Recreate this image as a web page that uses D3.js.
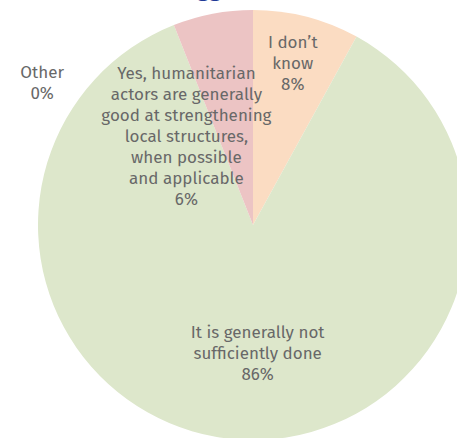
<!DOCTYPE html>
<html><head><meta charset="utf-8">
<script src="https://cdn.jsdelivr.net/npm/d3@7"></script>
<style>html,body{margin:0;padding:0;background:#fff;}svg{display:block;}</style>
</head><body>
<svg id="chart" width="457" height="438"></svg>
<script>
const categories = ["I don\u2019t know", "It is generally not sufficiently done", "Other", "Yes, humanitarian actors are generally good at strengthening local structures, when possible and applicable"];
const values = [8, 86, 0, 6];
const labelLines = [
  ["I don\u2019t", "know"],
  ["It is generally not", "sufficiently done"],
  ["Other"],
  ["Yes, humanitarian", "actors are generally", "good at strengthening", "local structures,", "when possible", "and applicable"]
];
const colors = ["#FBDCC2", "#DDE7CB", "#C9D6E8", "#ECC4C4"];

const svg = d3.select("#chart");
const cx = 253, cy = 225, R = 215;
const font = "'Fira Sans', 'Open Sans', sans-serif";

// partial title (cut off above viewport)
svg.append("text").attr("x", 209).attr("y", -4).attr("text-anchor", "middle")
  .attr("font-family", font).attr("font-weight", "bold").attr("font-size", 22)
  .attr("fill", "#1F3A96").text("gg");

const pie = d3.pie().sort(null).value(d => d)(values);
const arc = d3.arc().innerRadius(0).outerRadius(R);
const g = svg.append("g").attr("transform", `translate(${cx},${cy})`);
g.selectAll("path").data(pie).enter().append("path")
  .attr("d", arc).attr("fill", (d, i) => colors[i]);

// label anchor layout: polar position (deg from 12 o'clock, radius) of the label block's center
const labelLayout = [
  {ang: 14.2, r: 162},
  {ang: 178, r: 133},
  {ang: -56.8, r: 252},
  {ang: -38.5, r: 107}
];
const lh = 21;
pie.forEach((d, i) => {
  const lines = labelLines[i].concat([Math.round(values[i]) + "%"]);
  const a = labelLayout[i].ang * Math.PI / 180;
  const x = Math.sin(a) * labelLayout[i].r;
  const y = -Math.cos(a) * labelLayout[i].r;
  const t = g.append("text").attr("text-anchor", "middle")
    .attr("font-family", font).attr("font-size", 17).attr("fill", "#686868");
  const y0 = y - (lines.length - 1) * lh / 2 + 1;
  lines.forEach((ln, k) => {
    t.append("tspan").attr("x", x).attr("y", y0 + k * lh).text(ln);
  });
});
</script>
</body></html>
